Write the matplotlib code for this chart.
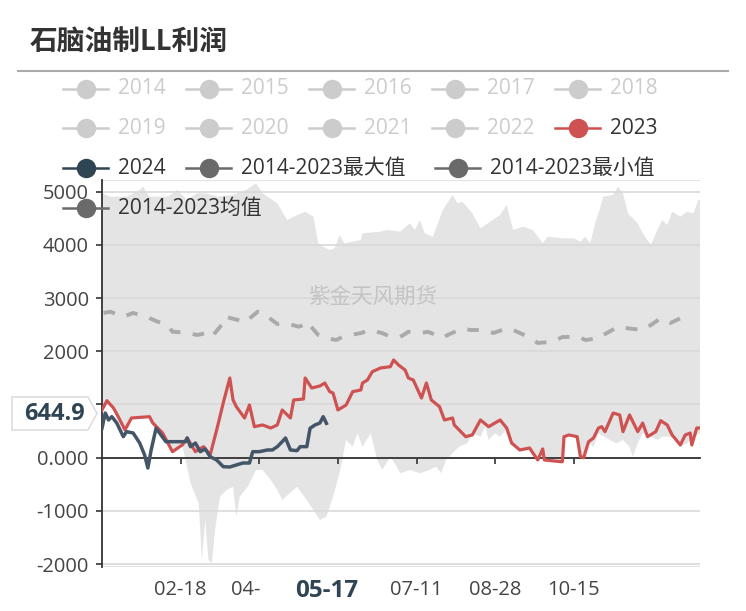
import matplotlib.pyplot as plt
import matplotlib.transforms as mtransforms
from matplotlib.lines import Line2D
from matplotlib.patches import Polygon
import numpy as np

plt.rcParams["font.family"] = ["Open Sans", "Noto Sans CJK SC", "DejaVu Sans"]

# -----------------------------------------------------------------------------
# Data (day index within the year, 0 = 01-01)
# -----------------------------------------------------------------------------
y2023_days = [0, 3, 7, 10, 14, 18, 29, 31, 37, 43, 49, 52, 57, 62, 66, 70, 74, 78,
              80, 82, 87, 90, 93, 98, 103, 107, 110, 115, 117, 123, 124, 128, 133,
              136, 139, 141, 144, 149, 153, 158, 159, 162, 165, 170, 176, 178, 181,
              185, 187, 190, 195, 198, 201, 206, 209, 214, 215, 222, 226, 231, 236,
              243, 247, 250, 255, 261, 263, 266, 269, 270, 280, 281, 282, 285, 290,
              292, 294, 297, 300, 303, 305, 307, 312, 316, 318, 322, 327, 330, 333,
              338, 341, 345, 348, 353, 356, 359, 360, 363, 365]
y2023_vals = [897, 1071, 934, 765, 521, 746, 771, 652, 464, 113, 239, 370, 113, 207,
              51, 521, 1028, 1498, 1085, 959, 746, 990, 583, 615, 558, 615, 897, 746,
              1085, 1103, 1498, 1310, 1348, 1404, 1241, 1216, 897, 990, 1241, 1273,
              1404, 1460, 1617, 1686, 1711, 1836, 1742, 1648, 1498, 1460, 1122, 1404,
              1085, 959, 709, 746, 615, 395, 427, 709, 583, 709, 558, 276, 145, 182,
              88, -43, 164, -43, -75, -75, 395, 427, 395, 19, 0, 301, 370, 558, 583,
              489, 840, 803, 489, 803, 489, 652, 395, 489, 696, 615, 427, 239, 427,
              464, 239, 558, 558]

y2024_days = [0, 2, 4, 6, 9, 13, 15, 19, 23, 26, 28, 30, 33, 36, 39, 48, 51, 52, 54,
              57, 60, 63, 66, 70, 74, 78, 82, 86, 90, 92, 96, 101, 104, 107, 110, 112,
              115, 119, 121, 125, 127, 130, 133, 135, 137]
y2024_vals = [553, 840, 709, 771, 652, 395, 489, 464, 276, 51, -194, 145, 553, 427,
              301, 301, 301, 370, 207, 276, 113, 164, 19, -43, -169, -175, -137, -100,
              -100, 113, 113, 145, 145, 207, 301, 370, 145, 132, 207, 207, 553, 615,
              652, 771, 644.9]

mean_days = [1, 5, 13, 19, 27, 34, 40, 43, 52, 58, 64, 67, 74, 75, 83, 87, 95, 98,
             107, 112, 120, 123, 125, 132, 136, 143, 147, 159, 162, 171, 175, 182, 184,
             187, 195, 199, 208, 211, 220, 225, 233, 239, 247, 252, 260, 266, 275, 281,
             291, 295, 304, 306, 315, 321, 330, 335, 341, 347, 353, 359]
mean_vals = [2720, 2744, 2650, 2720, 2650, 2556, 2494, 2368, 2350, 2306, 2344, 2274,
             2532, 2650, 2588, 2538, 2744, 2720, 2513, 2532, 2462, 2494, 2556, 2306,
             2250, 2212, 2274, 2350, 2400, 2344, 2287, 2274, 2306, 2368, 2344, 2368,
             2250, 2306, 2432, 2400, 2400, 2344, 2432, 2387, 2274, 2156, 2180, 2268,
             2274, 2212, 2250, 2306, 2462, 2432, 2400, 2494, 2620, 2532, 2620, 2532]

max_days = [0, 5, 15, 23, 25, 29, 40, 46, 52, 58, 64, 70, 80, 88, 94, 98, 107, 113,
            117, 124, 129, 132, 135, 139, 142, 145, 148, 158, 159, 170, 174, 182, 188,
            191, 194, 197, 202, 208, 214, 217, 220, 226, 231, 237, 243, 247, 251, 257,
            263, 269, 272, 281, 288, 292, 295, 298, 301, 304, 306, 312, 315, 318, 321,
            327, 330, 335, 339, 342, 345, 348, 353, 357, 361, 364, 365]
max_vals = [4970, 4906, 4906, 5032, 5094, 4906, 4906, 5032, 4844, 4970, 4970, 4906,
            4938, 5032, 5158, 4970, 4782, 4468, 4530, 4624, 4530, 4030, 3966, 3904,
            3936, 4186, 4030, 4092, 4218, 4248, 4280, 4250, 4406, 4280, 4468, 4218,
            4154, 4656, 4938, 4782, 4812, 4594, 4312, 4436, 4560, 4750, 4280, 4342,
            4280, 4030, 4154, 4124, 4124, 4060, 4154, 4030, 4406, 4690, 4906, 4938,
            5094, 4970, 4594, 4406, 4218, 3998, 4280, 4468, 4374, 4624, 4530, 4624,
            4594, 4844, 4844]

min_days = [0, 3, 7, 10, 14, 18, 29, 31, 37, 43, 49, 51, 54, 59, 61, 63, 65, 67, 69,
            72, 76, 80, 82, 84, 89, 94, 98, 103, 107, 110, 119, 125, 129, 133, 137,
            141, 145, 149, 153, 156, 159, 164, 168, 171, 176, 180, 182, 188, 194, 200,
            204, 207, 210, 214, 218, 223, 226, 231, 234, 236, 240, 243, 247, 250, 255,
            261, 263, 266, 269, 270, 281, 282, 285, 290, 292, 294, 297, 300, 303, 310,
            314, 318, 322, 324, 327, 330, 335, 339, 342, 348, 353, 357, 361, 365]
min_vals = [880, 1050, 920, 750, 500, 730, 750, 640, 450, 100, 220, -43, -476, -852,
            -1923, -1171, -1923, -1980, -1359, -733, -607, -545, -1109, -733, -545,
            -231, -231, -419, -607, -795, -545, -795, -983, -1171, -1109, -733, -293,
            333, 207, 459, 207, 459, -43, -231, 19, -169, -293, -231, -293, -231, -169,
            -293, -43, 82, 207, 270, 459, 395, 583, 333, 459, 395, 540, 260, 130, 170,
            70, -60, 150, -60, -90, 380, 410, 380, 0, -20, 280, 207, 459, 333, 270,
            333, 207, 19, 270, 459, 395, 333, 395, 395, 207, 270, 395, 459]

# the 05-24 label is hidden under the axis pointer label, 04-06 is cut to "04-"
x_tick_days = [48, 96, 144, 192, 240, 288]
x_tick_labels = ["02-18", "04-", "", "07-11", "08-28", "10-15"]
y_ticks = [-2000, -1000, 0, 1000, 2000, 3000, 4000, 5000]
y_tick_labels = ["-2000", "-1000", "0.000", "1000", "2000", "3000", "4000", "5000"]

legend_names = ["2014", "2015", "2016", "2017", "2018",
                "2019", "2020", "2021", "2022", "2023",
                "2024", "2014-2023最大值", "2014-2023最小值", "2014-2023均值"]

pointer_day = 137
pointer_day_label = "05-17"
pointer_value_label = "644.9"

# -----------------------------------------------------------------------------
# Figure
# -----------------------------------------------------------------------------
W, H = 746, 611
RED = "#cf5252"
NAVY = "#435567"
GREY_LEG = "#cccccc"
DARK_LEG = "#6a6a6a"
TEXT = "#333333"


def fx(px):
    return px / W


def fy(py):
    return 1 - py / H


fig = plt.figure(figsize=(W / 100, H / 100), dpi=100)
ax = fig.add_axes([fx(102), fy(567), fx(700) - fx(102), fy(180) - fy(567)])

# band between 2014-2023 max and min
band_x = np.concatenate([max_days, min_days[::-1]])
band_y = np.concatenate([max_vals, min_vals[::-1]])
ax.fill(band_x, band_y, color="#e4e4e4", lw=0, zorder=1)

ax.plot(mean_days, mean_vals, color="#aaaaaa", lw=2.8, ls=(0, (3, 3.2)), zorder=3)
ax.plot(y2023_days, y2023_vals, color=RED, lw=2.3, zorder=4)
ax.plot(y2024_days, y2024_vals, color=NAVY, lw=2.5, zorder=5)

ax.set_xlim(0, 365)
ax.set_ylim(-2055, 5220)
ax.set_yticks(y_ticks)
ax.set_yticklabels(y_tick_labels)
ax.set_xticks(x_tick_days)
ax.set_axisbelow("line")
ax.grid(axis="y", color="#d9d9d9", lw=1.2)
ax.axhline(5220, color="#e3e3e3", lw=1.5, zorder=1.5)
ax.axhline(-2055, color="#e3e3e3", lw=1.5, zorder=1.5)

for side in ["top", "right"]:
    ax.spines[side].set_visible(False)
ax.spines["left"].set_color(TEXT)
ax.spines["left"].set_linewidth(1.3)
ax.spines["bottom"].set_position(("data", 0))
ax.spines["bottom"].set_color(TEXT)
ax.spines["bottom"].set_linewidth(1.3)
ax.spines["bottom"].set_zorder(3.5)
ax.tick_params(axis="y", length=4.5, width=1.2, color=TEXT, pad=5,
               labelsize=14.5, labelcolor="#444444")
ax.tick_params(axis="x", length=4.5, width=1.2, color=TEXT, labelbottom=False)

# x tick labels sit under the plot area, not under the zero line
trans = mtransforms.blended_transform_factory(ax.transData, fig.transFigure)
for d, lab in zip(x_tick_days, x_tick_labels):
    if not lab:
        continue
    if lab == "04-":
        d = d - 8  # left part of the centred "04-06"
    ax.text(d, fy(590), lab, transform=trans, ha="center", va="center",
            fontsize=14.5, color="#444444", clip_on=False)

# axis pointer labels
ax.text(pointer_day, fy(591), pointer_day_label, transform=trans, ha="center",
        va="center", fontsize=17.5, fontweight="bold", color="#2f4554", clip_on=False)
box = [(12, 397), (88, 397), (97, 413.5), (88, 430), (12, 430)]
fig.add_artist(Polygon([(fx(a), fy(b)) for a, b in box], closed=True,
                       transform=fig.transFigure, facecolor="white",
                       edgecolor="#dddddd", lw=1.2, zorder=5))
fig.text(fx(54), fy(414), pointer_value_label, ha="center", va="center",
         fontsize=17, fontweight="bold", color="#2f4554", zorder=6)

# watermark
fig.text(fx(373), fy(297), "紫金天风期货", ha="center", va="center",
         fontsize=15.5, color="#c4c4c4", zorder=2)

# title
fig.text(fx(30), fy(43), "石脑油制LL利润", ha="left", va="center",
         fontsize=20, fontweight="bold", color=TEXT)
fig.add_artist(Line2D([fx(18), fx(728)], [fy(71), fy(71)], color="#aaaaaa", lw=1.5))

# legend (drawn by hand to keep the echarts layout)
leg_pos = [(86, 89), (209, 89), (332, 89), (455, 89), (578, 89),
           (86, 128), (209, 128), (332, 128), (455, 128), (578, 128),
           (86, 168), (209, 168), (458, 168),
           (86, 208)]
leg_colors = [GREY_LEG] * 9 + [RED, "#2f4554", DARK_LEG, DARK_LEG, DARK_LEG]
leg_text_colors = [GREY_LEG] * 9 + [TEXT] * 5
for name, (cx, cy), c, tc in zip(legend_names, leg_pos, leg_colors, leg_text_colors):
    line_c = "#d05050" if c == RED else c
    fig.add_artist(Line2D([fx(cx - 23), fx(cx + 22)], [fy(cy), fy(cy)],
                          color=line_c, lw=1.8, zorder=4))
    fig.add_artist(Line2D([fx(cx)], [fy(cy)], marker="o", markersize=14,
                          color=c, markeredgewidth=0, zorder=4))
    fig.text(fx(cx + 32), fy(cy), name, ha="left", va="center",
             fontsize=15, color=tc, zorder=4)

fig.savefig("out.png", dpi=100)
